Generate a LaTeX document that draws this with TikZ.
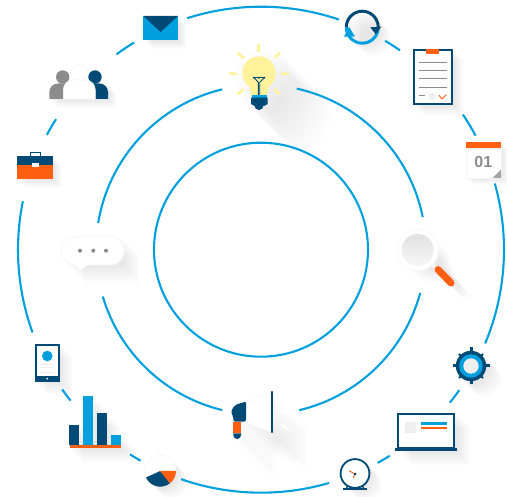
\documentclass[tikz,border=0pt]{standalone}
\usepackage{fontspec}
\setmainfont{Liberation Sans}
\definecolor{ringblue}{HTML}{00A0DF}
\definecolor{navy}{HTML}{004A75}
\definecolor{flame}{HTML}{FF5F10}
\definecolor{ash}{HTML}{8C8C8C}
\definecolor{pale}{HTML}{EFEFEF}
\definecolor{lamp}{HTML}{FFF29B}
\tikzset{
    ringline/.style={draw=ringblue,line width=2.1},
    castlayer/.style={fill=black,opacity=0.008},
    softwhite/.style={fill=white,draw=black!4,line width=0.6},
    ray/.style={draw=lamp,line width=2.6},
    greyline/.style={draw=ash,line width=0.9},
    paleline/.style={draw=pale,line width=0.8},
    tooth/.style={draw=navy,line width=3},
    smalltooth/.style={draw=navy,line width=1.8}
}
\newcommand{\ringarc}[3]{\draw[ringline] (hub) ++(#2:#1) arc[start angle=#2,end angle=#3,radius=#1];}
\newcommand{\castshadow}[2]{\foreach \n in {1,...,12}{\fill[castlayer,shift={(\n*#1/12,\n*#1/12)}] #2;}}
\begin{document}
\begin{tikzpicture}[x=1pt,y=-1pt]
    \useasboundingbox (0,0) rectangle (507,497);
    \coordinate (hub) at (261,249.7);

    \castshadow{9}{(143.3,16) rectangle (178,40.5)}
    \castshadow{9}{(49.3,84) rectangle (108,99)}
    \castshadow{9}{(17,156) rectangle (53,179)}
    \castshadow{44}{(258,44) -- (280,52) -- (289,74) -- (280,94) -- (267,108) -- (251,108) -- (238,94) -- (229,73) -- (238,53) -- cycle}
    \castshadow{13}{(362.3,27.2) circle (16)}
    \castshadow{11}{(413,49) rectangle (453,105)}
    \castshadow{7}{(466,142) rectangle (501,178)}
    \castshadow{16}{(432,236) -- (440,262) -- (455,280) -- (450,285) -- (434,268) -- (404,265) -- cycle}
    \castshadow{15}{(471,366) circle (16)}
    \castshadow{14}{(397,413) rectangle (456,451)}
    \castshadow{12}{(355,473.5) circle (15)}
    \castshadow{12}{(160.3,471) circle (15.7)}
    \castshadow{14}{(69,425) -- (83,425) -- (83,396) -- (93,396) -- (93,413) -- (107,413) -- (107,435) -- (121,435) -- (121,448) -- (69,448) -- cycle}
    \castshadow{13}{(35,344) rectangle (60,382)}
    \castshadow{18}{(66,238) rectangle (122,265)}
    \castshadow{36}{(230.7,411.7) -- (235,405) -- (246,402) -- (272,391) -- (272,433) -- (246,422) -- (241,422) -- (241,439) -- (233,439) -- (233,417) -- cycle}

    \draw[ringline] (hub) circle (107);

    \ringarc{165}{189.3}{256.4}
    \ringarc{165}{282.5}{348.6}
    \ringarc{165}{15.2}{76.6}
    \ringarc{165}{103.6}{163.5}

    \ringarc{243}{252.3}{288.7}
    \ringarc{243}{300.7}{304.9}
    \ringarc{243}{326.2}{332}
    \ringarc{243}{344.2}{382.7}
    \ringarc{243}{35.3}{39}
    \ringarc{243}{58}{61.3}
    \ringarc{243}{73.7}{109.2}
    \ringarc{243}{119.7}{122.6}
    \ringarc{243}{141.6}{144.9}
    \ringarc{243}{160.1}{191.5}
    \ringarc{243}{208.2}{212.5}
    \ringarc{243}{233.5}{238.5}

    \fill[ringblue] (143.3,16) rectangle (178,40.5);
    \fill[navy] (143.3,16) -- (178,16) -- (160.6,32) -- cycle;

    \fill[ash] (62.7,77) circle (6.7);
    \fill[ash] (49.3,99) -- (49.3,92) arc[start angle=180,end angle=270,radius=8.5] -- (70,83.5) -- (70,99) -- cycle;
    \fill[navy] (95,77) circle (6.7);
    \fill[navy] (108,99) -- (108,92) arc[start angle=0,end angle=-90,radius=8.5] -- (88,83.5) -- (88,99) -- cycle;
    \filldraw[softwhite] (79.3,72.7) circle (8.7);
    \filldraw[softwhite] (63.3,99) -- (63.3,90) arc[start angle=180,end angle=270,radius=10] -- (85.3,80) arc[start angle=270,end angle=360,radius=10] -- (95.3,99) -- cycle;

    \draw[navy,line width=1.3] (30.5,156) -- (30.5,152.7) -- (40.5,152.7) -- (40.5,156);
    \fill[navy] (17,156) rectangle (53,165);
    \fill[flame] (17,165) rectangle (53,179);
    \fill[white] (32,163) rectangle (39,167);

    \draw[ray] (258.7,44.3) -- (258.7,51.7);
    \draw[ray] (280,52.3) -- (275,57.7);
    \draw[ray] (281,73.5) -- (289,74);
    \draw[ray] (274.3,89) -- (280,94.3);
    \draw[ray] (243.3,89.3) -- (237.7,94.3);
    \draw[ray] (229,73.3) -- (236.7,74);
    \draw[ray] (237.7,53.3) -- (244.3,58.3);
    \fill[lamp] (249.4,86.7) arc[start angle=125,end angle=415,radius=16.7] -- (266.7,96) -- (251.7,96) -- cycle;
    \draw[navy,line width=0.9] (254,77.7) -- (258.3,82.3) -- (258.3,95);
    \draw[navy,line width=0.9] (264.3,77.7) -- (259.7,82.3) -- (259.7,95);
    \draw[navy,line width=0.9] (254,77.7) -- (264.3,77.7);
    \fill[navy] (254,77.7) circle (1.1);
    \fill[navy] (259,77.7) circle (1.1);
    \fill[navy] (264.3,77.7) circle (1.1);
    \fill[ringblue] (252,95) rectangle (267,97.7);
    \fill[navy] (251,97.7) -- (267.7,97.7) -- (267.7,104) -- (264,106) -- (263.5,105.5) arc[start angle=0,end angle=180,radius=4.5] -- (254.5,106) -- (251,104) -- cycle;

    \draw[ringblue,line width=3] (362.3,27.2) ++(0:16) arc[start angle=0,end angle=180,radius=16];
    \draw[navy,line width=3] (362.3,27.2) ++(180:16) arc[start angle=180,end angle=365,radius=16];
    \fill[navy] (370.3,27.3) -- (381.3,26.7) -- (375.7,34.3) -- cycle;
    \fill[ringblue] (344,36.7) -- (355,36.7) -- (349,26.7) -- cycle;

    \filldraw[fill=white,draw=navy,line width=2] (414,50) rectangle (452,104);
    \fill[flame] (426,49) rectangle (439,54);
    \draw[greyline] (419,62.3) -- (447,62.3);
    \draw[greyline] (419,70.3) -- (447,70.3);
    \draw[greyline] (419,78.3) -- (447,78.3);
    \draw[greyline] (419,87.3) -- (447,87.3);
    \draw[greyline] (419,95.5) -- (425,95.5);
    \fill[pale] (432.3,96.3) circle (3.7);
    \draw[flame,line width=1] (439,95.3) -- (442,99) -- (446.3,94.7);

    \filldraw[softwhite] (466.3,142) rectangle (501,178);
    \fill[pale] (466,148) rectangle (501,150);
    \fill[flame] (466,142) rectangle (501,148);
    \node[text=ash,font=\fontsize{16}{16}\selectfont\bfseries] (calnum) at (483.3,162.3) {01};
    \fill[ash!80] (501,169.7) -- (501,178) -- (492.5,178) -- cycle;

    \draw[white,line width=3] (432,264) -- (438,270);
    \draw[flame,line width=7,line cap=round] (438,269.5) -- (451,283);
    \filldraw[softwhite] (417.7,250) circle (20.7);
    \shade[top color=black!12,bottom color=black!3] (417.7,250) circle (16);

    \draw[tooth] (471,366) ++(0:13) -- ++(0:5.5);
    \draw[tooth] (471,366) ++(90:13) -- ++(90:5.5);
    \draw[tooth] (471,366) ++(180:13) -- ++(180:5.5);
    \draw[tooth] (471,366) ++(270:13) -- ++(270:5.5);
    \draw[smalltooth] (471,366) ++(45:13) -- ++(45:4);
    \draw[smalltooth] (471,366) ++(135:13) -- ++(135:4);
    \draw[smalltooth] (471,366) ++(225:13) -- ++(225:4);
    \draw[smalltooth] (471,366) ++(315:13) -- ++(315:4);
    \fill[navy] (471,366) circle (15.2);
    \fill[ringblue] (471,366) circle (11.8);
    \fill[pale] (471,366) circle (7.7);

    \filldraw[fill=white,draw=navy,line width=1.8] (398.2,413.9) rectangle (454.1,448);
    \fill[navy] (395,448) rectangle (457,451);
    \fill[pale] (405,422) rectangle (416.3,433);
    \fill[ringblue] (421,422) rectangle (447,425);
    \fill[flame] (421,427) rectangle (447,429);

    \draw[navy,line width=2] (343,489.2) -- (367,489.2);
    \draw[navy,line width=1.4] (348,483) -- (346.5,489);
    \draw[navy,line width=1.4] (362,483) -- (363.5,489);
    \filldraw[fill=white,draw=navy,line width=1.8] (355,473.5) circle (14.4);
    \draw[flame,line width=0.9] (355,474) -- (349,470.7);
    \draw[flame,line width=0.9] (355,474) -- (353.3,478);
    \fill[navy] (355,474) circle (1.5);

    \filldraw[softwhite] (160.3,471) circle (15.7);
    \fill[navy] (160.3,471) -- ++(51.9:15.7) arc[start angle=51.9,end angle=155.6,radius=15.7] -- cycle;
    \fill[flame] (160.3,471) -- ++(0:15.7) arc[start angle=0,end angle=51.9,radius=15.7] -- cycle;

    \fill[navy] (69,425) rectangle (79,445);
    \fill[ringblue] (83,396) rectangle (93,445);
    \fill[navy] (97,413) rectangle (107,445);
    \fill[ringblue] (111,435) rectangle (121,445);
    \fill[flame] (70,445) rectangle (121,448);

    \fill[navy] (35,344) rectangle (60,382);
    \fill[white] (37,346) rectangle (58,376);
    \fill[ringblue] (47.3,356) circle (5.3);
    \draw[paleline] (40,364.3) -- (54,364.3);
    \draw[paleline] (40,367.5) -- (54,367.5);
    \draw[paleline] (40,372) -- (54,372);
    \fill[white] (47.3,378.6) circle (1);

    \filldraw[softwhite,rounded corners=13] (62,236.7) rectangle (124,265);
    \filldraw[softwhite] (76,263.5) -- (79.3,270.7) -- (88,265) -- cycle;
    \fill[white] (74,260) rectangle (90,264.7);
    \fill[ash] (80,250.7) circle (2);
    \fill[ash] (93.3,250.7) circle (2);
    \fill[ash] (106,250.7) circle (2);

    \filldraw[softwhite] (246,403) -- (272,391) -- (272,433) -- (246,422) -- cycle;
    \draw[navy,line width=2.4,line cap=round] (272,392) -- (272,432);
    \fill[navy,rounded corners=2] (246,401.5) -- (246,421.7) -- (233.3,421.7) -- (233.3,416.7) -- (230.7,411.7) -- (235,405) -- cycle;
    \fill[flame] (233.3,421.7) rectangle (241,433.3);
    \fill[navy] (233.3,433.3) -- (233.3,435.2) arc[start angle=180,end angle=0,radius=3.85] -- (241,433.3) -- cycle;
    \draw[white,line width=2.2] (281,400) -- (289,396);
    \draw[white,line width=2.2] (281.7,412.3) -- (290,412.3);
    \draw[white,line width=2.2] (281,425) -- (289,430);
\end{tikzpicture}
\end{document}
